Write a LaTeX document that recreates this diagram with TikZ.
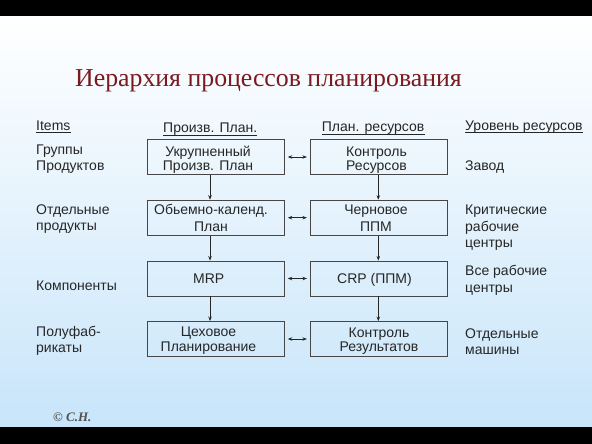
\documentclass[tikz,border=0pt]{standalone}
\usepackage{fontspec}
\setmainfont{Liberation Sans}
\newfontfamily\titlefont{Liberation Serif}
\usetikzlibrary{arrows.meta}
\definecolor{titlered}{RGB}{122,26,32}
\definecolor{bgblue}{RGB}{200,229,250}
\definecolor{ink}{RGB}{38,38,38}
\definecolor{boxline}{RGB}{70,70,70}
\begin{document}
\begin{tikzpicture}[x=1pt,y=-1pt,
  box/.style={draw=boxline, line width=0.9pt, minimum width=136.7pt, minimum height=35pt, inner sep=0pt},
  btxt/.style={align=center, text=ink, inner sep=0pt, font=\fontsize{14}{14}\selectfont},
  lbl/.style={align=left, anchor=west, text=ink, inner sep=0pt, font=\fontsize{14}{16.5}\selectfont},
  hdr/.style={anchor=base west, text=ink, inner sep=0pt, font=\fontsize{14}{16.5}\selectfont},
  uline/.style={draw=ink, line width=0.7pt},
  arr/.style={-{Stealth[length=4.5pt,width=3.5pt]}, line width=0.7pt, draw=ink},
  darr/.style={{Stealth[length=4.5pt,width=3.5pt]}-{Stealth[length=4.5pt,width=3.5pt]}, line width=0.7pt, draw=ink, shorten >=3.3pt, shorten <=3.3pt}
]
\useasboundingbox (0,0) rectangle (592,444);
% background
\fill[top color=white, bottom color=bgblue] (0,16) rectangle (592,427);
\fill[black] (0,0) rectangle (592,16.5);
\fill[black] (0,426.7) rectangle (592,444);

% title
\node[anchor=base west, inner sep=0pt, text=titlered, font=\titlefont\fontsize{25.8}{28}\selectfont] (title) at (75,86.5) {Иерархия процессов планирования};

% headers
\node[hdr] (h1) at (36,130) {Items};
\node[hdr] (h2) at (163,132.7) {Произв. План.};
\node[hdr] (h3) at (321.7,131.7) {План. ресурсов};
\node[hdr] (h4) at (465,130) {Уровень ресурсов};
\foreach \h in {h1,h2,h3,h4}
  \draw[uline] ([yshift=-2.6pt]\h.base west) -- ([yshift=-2.6pt]\h.base east);

% left labels
\node[lbl] (g1) at (36,159.25) {\strut Группы\\\strut Продуктов};
\node[lbl] (g2) at (36,218.95) {\strut Отдельные\\\strut продукты};
\node[lbl] (g3) at (36,286.7) {\strut Компоненты};
\node[lbl] (g4) at (36,341) {\strut Полуфаб-\\\strut рикаты};

% right labels
\node[lbl] (r1) at (465,166.7) {\strut Завод};
\node[lbl] (r2) at (465,228) {\strut Критические\\\strut рабочие\\\strut центры};
\node[lbl] (r3) at (465,280.65) {\strut Все рабочие\\\strut центры};
\node[lbl] (r4) at (465,343.25) {\strut Отдельные\\\strut машины};

% boxes
\node[box] (L1) at (215.65,157) {};
\node[box] (L2) at (215.65,217.7) {};
\node[box] (L3) at (215.65,278.5) {};
\node[box] (L4) at (215.65,339) {};
\node[box] (R1) at (379,157) {};
\node[box] (R2) at (379,217.7) {};
\node[box] (R3) at (379,278.5) {};
\node[box] (R4) at (379,339) {};

% box texts
\node[btxt] (L1t) at (208,160.2) {\strut Укрупненный\\\strut Произв. План};
\node[btxt, font=\fontsize{14}{17.4}\selectfont] (L2t) at (211,219.5) {\strut Обьемно-календ.\\\strut План};
\node[btxt] (L3t) at (208.7,280.5) {\strut MRP};
\node[btxt, font=\fontsize{14}{13.4}\selectfont] (L4t) at (208.5,341.3) {\strut Цеховое\\\strut Планирование};
\node[btxt, font=\fontsize{14}{13.4}\selectfont] (R1t) at (376.5,160.7) {\strut Контроль\\\strut Ресурсов};
\node[btxt, font=\fontsize{14}{17}\selectfont] (R2t) at (376,219.4) {\strut Черновое\\\strut ППМ};
\node[btxt] (R3t) at (374.5,280.5) {\strut CRP (ППМ)};
\node[btxt, font=\fontsize{14}{13}\selectfont] (R4t) at (379,341.8) {\strut Контроль\\\strut Результатов};

% arrows
\coordinate (xl) at (210,0);
\coordinate (xr) at (378.3,0);
\draw[arr] (L1.south -| xl) -- (L2.north -| xl);
\draw[arr] (L2.south -| xl) -- (L3.north -| xl);
\draw[arr] (L3.south -| xl) -- (L4.north -| xl);
\draw[arr] (R1.south -| xr) -- (R2.north -| xr);
\draw[arr] (R2.south -| xr) -- (R3.north -| xr);
\draw[arr] (R3.south -| xr) -- (R4.north -| xr);
\draw[darr] (L1.east) -- (R1.west);
\draw[darr] (L2.east) -- (R2.west);
\draw[darr] (L3.east) -- (R3.west);
\draw[darr] (L4.east) -- (R4.west);

% copyright
\node[anchor=base west, inner sep=0pt, text=ink!80, font=\titlefont\bfseries\itshape\fontsize{13}{13}\selectfont] (copy) at (53,421) {© С.Н.};
\end{tikzpicture}
\end{document}
